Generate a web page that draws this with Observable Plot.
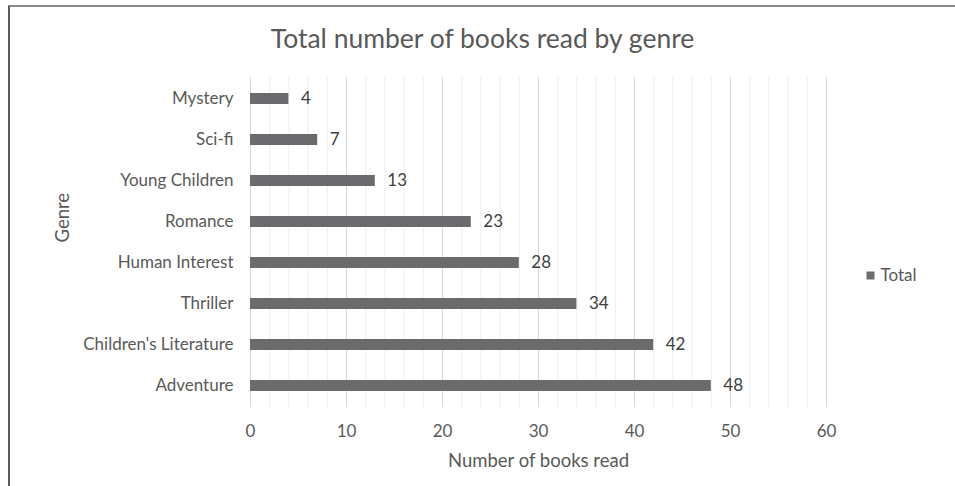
<!DOCTYPE html>
<html>
<head>
<meta charset="utf-8">
<script src="https://cdn.jsdelivr.net/npm/d3@7"></script>
<script src="https://cdn.jsdelivr.net/npm/@observablehq/plot@0.6"></script>
<style>
  html, body { margin: 0; padding: 0; background: #fff; }
  #wrap { position: relative; width: 955px; height: 486px; overflow: hidden; }
  #frame { position: absolute; left: 8px; top: 5px; width: 1000px; height: 600px; border-top: 2px solid #8a8a8a; border-left: 2px solid #5a5a5a; box-sizing: border-box; pointer-events: none; }
  #chart { position: absolute; left: 0; top: 0; }
</style>
</head>
<body>
<div id="wrap"><div id="chart"></div><div id="frame"></div></div>
<script>
const genres = ["Mystery", "Sci-fi", "Young Children", "Romance", "Human Interest", "Thriller", "Children's Literature", "Adventure"];
const totals = [4, 7, 13, 23, 28, 34, 42, 48];
const majorTicks = [0, 10, 20, 30, 40, 50, 60];
const minorTicks = [2, 4, 6, 8, 12, 14, 16, 18, 22, 24, 26, 28, 32, 34, 36, 38, 42, 44, 46, 48, 52, 54, 56, 58];
const titleText = "Total number of books read by genre";
const xLabel = "Number of books read";
const yLabel = "Genre";
const seriesName = "Total";

const data = genres.map((g, i) => ({genre: g, total: totals[i]}));
const barColor = "#6b6b6d";

const chart = Plot.plot({
  width: 955,
  height: 486,
  marginLeft: 250,
  marginRight: 129,
  marginTop: 77,
  marginBottom: 79,
  style: {fontFamily: "Lato, 'Open Sans', sans-serif", fontSize: "17px", color: "#595959", background: "transparent"},
  x: {domain: [0, 60], label: null},
  y: {domain: genres, paddingInner: 0.72, paddingOuter: 0.36, label: null},
  marks: [
    Plot.ruleX(minorTicks, {stroke: "#eeeeee", strokeWidth: 1}),
    Plot.ruleX(majorTicks, {stroke: "#d9d9d9", strokeWidth: 1}),
    Plot.barX(data, {x: "total", y: "genre", fill: barColor}),
    Plot.text(data, {x: "total", y: "genre", text: d => String(d.total), dx: 12, textAnchor: "start", fill: "#404040", fontSize: 17}),
    Plot.axisX({ticks: majorTicks, tickSize: 0, tickPadding: 17, label: null, fontSize: 17}),
    Plot.axisY({tickSize: 0, tickPadding: 17, label: null, fontSize: 17}),
    Plot.text([titleText], {frameAnchor: "top", dx: -56, dy: -48, fontSize: 26.5, fill: "#595959"}),
    Plot.text([xLabel], {frameAnchor: "bottom", dy: 59, fontSize: 18.5, fill: "#595959"}),
    Plot.text([yLabel], {frameAnchor: "left", dx: -187, rotate: -90, fontSize: 18.5, fill: "#595959"}),
    Plot.dot([seriesName], {frameAnchor: "right", dx: 44, dy: 33, symbol: "square", r: 4.5, fill: barColor, stroke: null}),
    Plot.text([seriesName], {frameAnchor: "right", dx: 54, dy: 33, textAnchor: "start", fontSize: 17, fill: "#595959"})
  ]
});
document.getElementById("chart").appendChild(chart);
</script>
</body>
</html>
